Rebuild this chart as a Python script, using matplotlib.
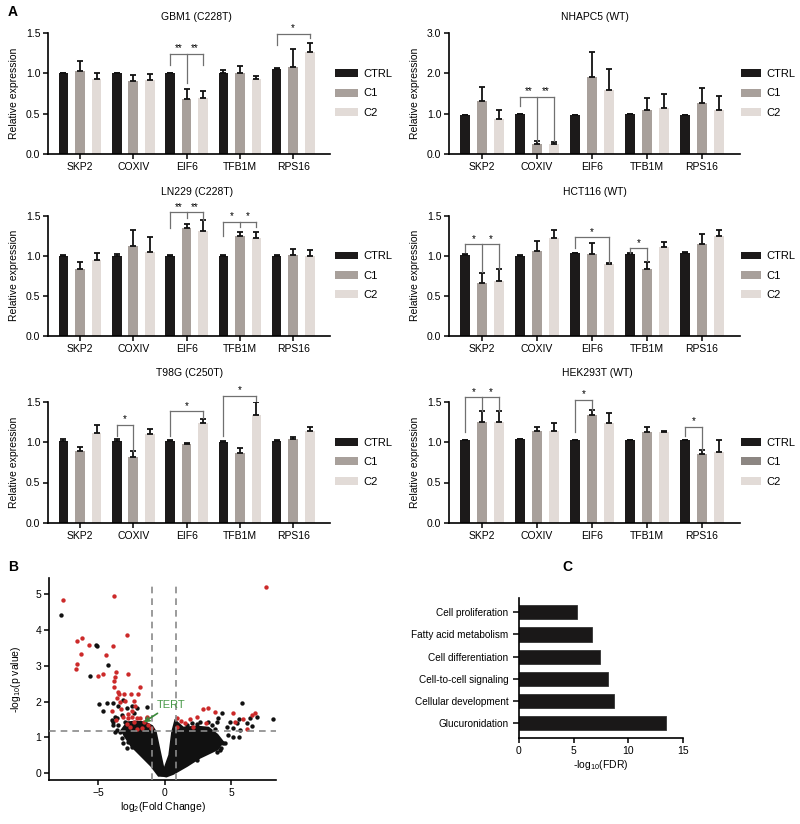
import numpy as np
import matplotlib.pyplot as plt

plt.rcParams['font.family'] = ['Liberation Sans', 'DejaVu Sans']
plt.rcParams['mathtext.fontset'] = 'custom'
plt.rcParams['mathtext.rm'] = 'Liberation Sans'
plt.rcParams['mathtext.it'] = 'Liberation Sans:italic'

W, H = 800, 824

# ---------- Panel A data ----------
genes = ['SKP2', 'COXIV', 'EIF6', 'TFB1M', 'RPS16']
groups = ['CTRL', 'C1', 'C2']
group_colors = ['#1c1a1a', '#a8a09b', '#e2dbd7']

# rows: CTRL, C1, C2 ; columns: genes
gbm1_mean = [[1.00, 1.00, 1.00, 1.00, 1.05], [1.03, 0.90, 0.68, 1.00, 1.08], [0.93, 0.92, 0.70, 0.93, 1.26]]
gbm1_err = [[0.00, 0.01, 0.01, 0.04, 0.02], [0.12, 0.08, 0.12, 0.09, 0.22], [0.07, 0.07, 0.08, 0.04, 0.12]]

nhapc5_mean = [[0.96, 0.98, 0.96, 0.98, 0.96], [1.31, 0.26, 1.91, 1.10, 1.26], [0.86, 0.25, 1.59, 1.14, 1.10]]
nhapc5_err = [[0.00, 0.02, 0.00, 0.02, 0.00], [0.36, 0.05, 0.62, 0.30, 0.38], [0.24, 0.04, 0.51, 0.36, 0.35]]

ln229_mean = [[1.00, 1.00, 1.00, 1.00, 1.00], [0.83, 1.12, 1.34, 1.24, 1.01], [0.94, 1.04, 1.31, 1.22, 0.99]]
ln229_err = [[0.01, 0.02, 0.01, 0.01, 0.01], [0.09, 0.20, 0.05, 0.06, 0.07], [0.09, 0.19, 0.13, 0.07, 0.08]]

hct116_mean = [[1.01, 1.00, 1.03, 1.02, 1.03], [0.66, 1.06, 1.02, 0.83, 1.15], [0.68, 1.22, 0.90, 1.11, 1.25]]
hct116_err = [[0.01, 0.01, 0.00, 0.01, 0.01], [0.13, 0.12, 0.14, 0.09, 0.12], [0.16, 0.10, 0.01, 0.06, 0.07]]

t98g_mean = [[1.01, 1.01, 1.01, 1.00, 1.01], [0.89, 0.82, 0.98, 0.86, 1.04], [1.11, 1.10, 1.23, 1.33, 1.13]]
t98g_err = [[0.03, 0.03, 0.01, 0.01, 0.01], [0.05, 0.07, 0.01, 0.07, 0.02], [0.10, 0.06, 0.06, 0.16, 0.05]]

hek_mean = [[1.03, 1.04, 1.03, 1.02, 1.03], [1.25, 1.14, 1.33, 1.12, 0.85], [1.25, 1.13, 1.23, 1.12, 0.88]]
hek_err = [[0.00, 0.00, 0.00, 0.00, 0.00], [0.13, 0.05, 0.06, 0.06, 0.05], [0.13, 0.10, 0.13, 0.02, 0.15]]

# significance brackets: (gene, bars, top, leg ends, stars)
gbm1_sig = [(2, [0, 1, 2], 1.24, [1.10, 0.88, 1.10], '**'), (4, [0, 2], 1.49, [1.35, 1.44], '*')]
nhapc5_sig = [(1, [0, 1, 2], 1.41, [1.18, 0.33, 0.31], '**')]
ln229_sig = [(2, [0, 1, 2], 1.54, [1.34, 1.47, 1.45], '**'), (3, [0, 1, 2], 1.42, [1.24, 1.36, 1.36], '*')]
hct116_sig = [(0, [0, 1, 2], 1.14, [1.05, 0.80, 0.84], '*'), (2, [0, 2], 1.23, [1.10, 0.91], '*'),
              (3, [0, 1], 1.09, [1.03, 0.93], '*')]
t98g_sig = [(1, [0, 1], 1.21, [1.07, 0.89], '*'), (2, [0, 2], 1.38, [1.07, 1.30], '*'),
            (3, [0, 2], 1.57, [1.07, 1.51], '*')]
hek_sig = [(0, [0, 1, 2], 1.55, [1.12, 1.38, 1.38], '*'), (2, [0, 1], 1.52, [1.12, 1.39], '*'),
           (4, [0, 1], 1.19, [1.08, 0.90], '*')]

# ---------- Panel B data (volcano) ----------
red_x = [-7.64, -3.81, -2.88, -6.59, -6.21, -5.69, -3.88, -6.34, -4.46, -6.64, -6.69, -5.06, -4.69, -3.76,
         -3.68, -2.76, -3.83, -3.83, -3.56, -3.46, -3.08, -2.58, -1.90, -2.00, -3.63, -3.38, -3.01, -2.31,
         -2.26, -4.01, -3.31, -2.46, -2.81, -3.13, -2.76, -2.46, -2.13, -3.71, -2.31, -1.88, -1.58, -1.38,
         -2.63, -2.13, -1.75, -1.25, -1.05, -2.88,
         7.57, 0.93, 1.18, 1.50, 1.88, 2.38, 2.83, 3.26, 3.76, 5.14, 5.89, 6.52, 6.77, 6.14, 5.26, 3.08,
         2.13, 0.93]
red_y = [4.83, 4.94, 3.87, 3.70, 3.78, 3.58, 3.56, 3.34, 3.30, 3.04, 2.92, 2.71, 2.77, 2.69,
         2.83, 2.77, 2.57, 2.41, 2.27, 2.20, 2.21, 2.20, 2.41, 2.21, 2.10, 1.99, 2.01, 2.01,
         1.87, 1.73, 1.79, 1.73, 1.65, 1.57, 1.55, 1.57, 1.55, 1.48, 1.43, 1.55, 1.43, 1.57,
         1.29, 1.23, 1.27, 1.34, 1.25, 1.36,
         5.19, 1.55, 1.45, 1.39, 1.51, 1.57, 1.78, 1.81, 1.71, 1.69, 1.51, 1.62, 1.68, 1.23, 1.43, 1.39,
         1.29, 1.29]

black_x = [-7.82, -5.19, -5.11, -4.26, -5.64, -4.96, -4.69, -4.39, -3.88, -3.51, -3.13, -2.88, -2.51, -2.13,
           -2.31, -3.63, -3.26, -3.88, -3.51, -3.00, -2.76, -3.13, -3.38, -2.51, -2.13, -1.75, -3.26, -2.81,
           -2.46, -2.63, -1.38, -1.38, -2.89, -3.14, -2.76, -3.64, -3.77, -3.89, -4.02, -3.77,
           5.81, 8.10, 6.89, 6.39, 5.59, 5.44, 4.89, 4.01, 4.26, 3.89, 3.51, 3.76, 3.26, 4.69, 5.14, 4.76,
           5.59, 4.51, 4.21, 3.89, 3.63, 2.38, 1.88, 2.63, 2.38, 2.01, 1.63, 6.53, 4.15, 4.40, 5.15, 5.65,
           6.16, 3.39, 3.89]
black_y = [4.41, 3.59, 3.55, 3.02, 2.71, 1.92, 1.73, 1.96, 1.96, 1.87, 2.04, 1.81, 1.88, 1.82,
           1.67, 1.53, 1.62, 1.43, 1.34, 1.43, 1.29, 1.20, 1.15, 1.25, 1.34, 1.15, 0.99, 0.88,
           0.74, 1.08, 1.53, 1.86, 0.70, 0.84, 1.02, 1.21, 1.16, 1.35, 1.49, 1.58,
           1.96, 1.50, 1.57, 1.53, 1.51, 1.41, 1.42, 1.53, 1.69, 1.42, 1.34, 1.23, 1.43, 1.29, 1.25, 1.06,
           1.01, 0.83, 0.69, 0.60, 0.78, 0.36, 0.46, 1.43, 1.37, 1.39, 1.34, 1.32, 0.65, 0.84, 1.02, 1.21,
           1.40, 0.74, 0.74]

# outline of the dense cloud of non-significant genes
left_cloud_x = [-0.10, -0.45, -1.00, -1.75, -2.50, -3.00, -3.20, -2.80, -2.20, -1.50, -1.00, -0.75, -0.38, -0.12]
left_cloud_y = [-0.05, -0.05, 0.22, 0.50, 0.78, 1.06, 1.20, 1.40, 1.42, 1.40, 1.30, 1.15, 0.50, 0.05]
right_cloud_x = [-0.15, 0.38, 0.60, 0.80, 1.35, 2.40, 3.25, 3.90, 4.30, 3.90, 2.60, 1.63, 0.60, 0.10]
right_cloud_y = [-0.05, 0.50, 1.15, 1.43, 1.25, 1.28, 1.25, 1.06, 0.87, 0.68, 0.45, 0.22, 0.00, -0.07]

fc_cut_left, fc_cut_right, p_cut = -1.0, 0.8, 1.18

# ---------- Panel C data ----------
terms = ['Glucuronidation', 'Cellular development', 'Cell-to-cell signaling',
         'Cell differentiation', 'Fatty acid metabolism', 'Cell proliferation']
fdr = [13.4, 8.7, 8.1, 7.4, 6.7, 5.3]

fig = plt.figure(figsize=(W / 100, H / 100), dpi=100)


def px_axes(x0, y0, x1, y1):
    return fig.add_axes([x0 / W, 1 - y1 / H, (x1 - x0) / W, (y1 - y0) / H])


def style(ax):
    for s in ['top', 'right']:
        ax.spines[s].set_visible(False)
    for s in ['left', 'bottom']:
        ax.spines[s].set_linewidth(1.2)
    ax.tick_params(width=1.1, length=3.5, labelsize=7.5, pad=2)


offsets = [-0.31, 0.0, 0.31]
bar_w = 0.18


def bar_panel(box, title, title_xy, mean, err, sig, ymax, yticks, leg_x, leg_len):
    ax = px_axes(*box)
    x = np.arange(len(genes))
    for i, g in enumerate(groups):
        ax.bar(x + offsets[i], mean[i], bar_w, color=group_colors[i], label=g, zorder=2, lw=0)
        ax.errorbar(x + offsets[i], mean[i], yerr=[np.zeros(len(genes)), err[i]], fmt='none',
                    ecolor='#111111', elinewidth=1.3, capsize=2.4, capthick=1.3, zorder=3)
    for gene, idx, top, ends, stars in sig:
        xs = [gene + offsets[j] for j in idx]
        ax.plot([xs[0], xs[-1]], [top, top], color='#707070', lw=0.9, clip_on=False, zorder=4)
        for xx, e in zip(xs, ends):
            ax.plot([xx, xx], [top, e], color='#707070', lw=0.9, clip_on=False, zorder=4)
        if len(xs) == 3:
            spots = [(xs[0] + xs[1]) / 2, (xs[1] + xs[2]) / 2]
        else:
            spots = [(xs[0] + xs[-1]) / 2]
        for sx in spots:
            ax.text(sx, top + ymax * 0.005, stars, ha='center', va='bottom', fontsize=7, clip_on=False)
    ax.set_xlim(-0.6, 4.69)
    ax.set_ylim(0, ymax)
    ax.set_xticks(x)
    ax.set_xticklabels(genes)
    ax.set_yticks(yticks)
    ax.set_yticklabels(['%.1f' % t for t in yticks])
    ax.set_ylabel('Relative expression', fontsize=7.5, labelpad=5)
    style(ax)
    leg = ax.legend(loc='center left', bbox_to_anchor=(leg_x, 0.5), frameon=False, fontsize=8,
                    handlelength=leg_len, handleheight=0.7, handletextpad=0.45, labelspacing=0.85,
                    borderaxespad=0, borderpad=0)
    fig.text(title_xy[0] / W, 1 - title_xy[1] / H, title, ha='center', va='center', fontsize=7.5)
    return ax, leg


t15 = [0, 0.5, 1.0, 1.5]
left_col, right_col = (48, 330), (449, 740)
rows = [(33, 154), (215.5, 336), (401.5, 523)]
lx, ll = 1.018, 2.1
rx, rl = 1.005, 1.8

bar_panel((left_col[0], rows[0][0], left_col[1], rows[0][1]), 'GBM1 (C228T)', (196, 17),
          gbm1_mean, gbm1_err, gbm1_sig, 1.5, t15, lx, ll)
bar_panel((right_col[0], rows[0][0], right_col[1], rows[0][1]), 'NHAPC5 (WT)', (595, 17),
          nhapc5_mean, nhapc5_err, nhapc5_sig, 3.0, [0, 1.0, 2.0, 3.0], rx, rl)
bar_panel((left_col[0], rows[1][0], left_col[1], rows[1][1]), 'LN229 (C228T)', (197, 192),
          ln229_mean, ln229_err, ln229_sig, 1.5, t15, lx, ll)
bar_panel((right_col[0], rows[1][0], right_col[1], rows[1][1]), 'HCT116 (WT)', (595, 192),
          hct116_mean, hct116_err, hct116_sig, 1.5, t15, rx, rl)
bar_panel((left_col[0], rows[2][0], left_col[1], rows[2][1]), 'T98G (C250T)', (190, 373),
          t98g_mean, t98g_err, t98g_sig, 1.5, t15, lx, ll)
ax_hek, leg_hek = bar_panel((right_col[0], rows[2][0], right_col[1], rows[2][1]), 'HEK293T (WT)', (597, 373),
                            hek_mean, hek_err, hek_sig, 1.5, t15, rx, rl)
leg_hek.legend_handles[1].set_facecolor('#8c8682')

# ---------- Panel B ----------
axb = px_axes(49, 578, 276, 780)
axb.fill(left_cloud_x, left_cloud_y, color='#111111', lw=2.5, zorder=2)
axb.fill(right_cloud_x, right_cloud_y, color='#111111', lw=2.5, zorder=2)
axb.scatter(black_x, black_y, s=10, color='#111111', lw=0, zorder=3)
axb.scatter(red_x, red_y, s=10, color='#cc2a2a', lw=0, zorder=4)
dash = (0, (4, 3))
axb.vlines([fc_cut_left, fc_cut_right], -0.2, 5.33, colors='#8a8a8a', linestyles=dash, lw=1.2, zorder=5)
axb.axhline(p_cut, color='#8a8a8a', ls=dash, lw=1.2, zorder=5)
axb.annotate('TERT', xy=(-1.6, 1.42), xytext=(-0.65, 1.91), color='#4a9a4a', fontsize=8,
             va='center', ha='left', zorder=6,
             arrowprops=dict(arrowstyle='->', color='#3a8a3a', lw=1.2, shrinkA=1, shrinkB=0))
axb.set_xlim(-8.72, 8.35)
axb.set_ylim(-0.19, 5.45)
axb.set_xticks([-5, 0, 5])
axb.set_yticks([0, 1, 2, 3, 4, 5])
axb.set_xlabel('log$_2$(Fold Change)', fontsize=7.5, labelpad=2)
axb.set_ylabel('-log$_{10}$(p value)', fontsize=7.5, labelpad=9)
style(axb)

# ---------- Panel C ----------
axc = px_axes(519, 598, 683, 738)
axc.barh(np.arange(len(terms)), fdr, height=0.64, color='#1a1818', edgecolor='#333333', lw=0.6)
axc.set_yticks(np.arange(len(terms)))
axc.set_yticklabels(terms)
axc.set_ylim(-0.68, 5.65)
axc.set_xlim(0, 15)
axc.set_xticks([0, 5, 10, 15])
axc.set_xlabel('-log$_{10}$(FDR)', fontsize=7.5, labelpad=2)
style(axc)
axc.tick_params(axis='y', length=4.5, labelsize=7.2, pad=3)

# panel letters
fig.text(13 / W, 1 - 12 / H, 'A', fontsize=10, fontweight='bold', ha='center', va='center')
fig.text(13 / W, 1 - 567 / H, 'B', fontsize=10, fontweight='bold', ha='center', va='center')
fig.text(567 / W, 1 - 567 / H, 'C', fontsize=10, fontweight='bold', ha='center', va='center')

fig.savefig('out.png', dpi=100)
